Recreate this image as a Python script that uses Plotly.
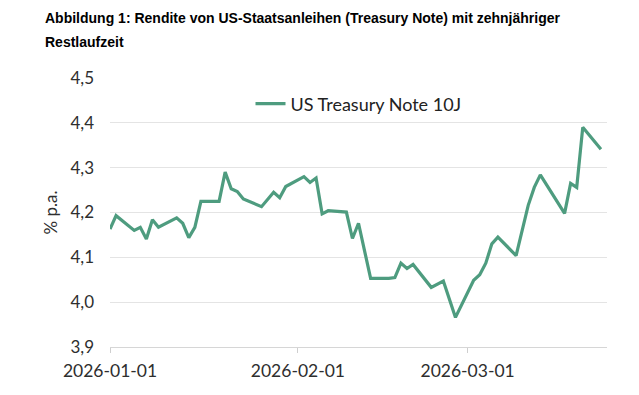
import plotly.graph_objects as go

dates = [
    "2026-01-01", "2026-01-02", "2026-01-05", "2026-01-06", "2026-01-07", "2026-01-08",
    "2026-01-09", "2026-01-12", "2026-01-13", "2026-01-14", "2026-01-15", "2026-01-16",
    "2026-01-19", "2026-01-20", "2026-01-21", "2026-01-22", "2026-01-23", "2026-01-26",
    "2026-01-28", "2026-01-29", "2026-01-30", "2026-02-02", "2026-02-03", "2026-02-04",
    "2026-02-05", "2026-02-06", "2026-02-09", "2026-02-10", "2026-02-11", "2026-02-13",
    "2026-02-16", "2026-02-17", "2026-02-18", "2026-02-19", "2026-02-20", "2026-02-23",
    "2026-02-25", "2026-02-27", "2026-03-02", "2026-03-03", "2026-03-04", "2026-03-05",
    "2026-03-06", "2026-03-09", "2026-03-11", "2026-03-12", "2026-03-13", "2026-03-17",
    "2026-03-18", "2026-03-19", "2026-03-20", "2026-03-23",
]
yields = [
    4.163, 4.193, 4.160, 4.167, 4.141, 4.184,
    4.167, 4.188, 4.176, 4.144, 4.167, 4.225,
    4.225, 4.290, 4.253, 4.247, 4.230, 4.213,
    4.245, 4.233, 4.258, 4.280, 4.267, 4.277,
    4.197, 4.204, 4.201, 4.142, 4.176, 4.053,
    4.053, 4.055, 4.087, 4.075, 4.084, 4.033,
    4.047, 3.966, 4.049, 4.061, 4.087, 4.130,
    4.145, 4.104, 4.216, 4.256, 4.284, 4.198,
    4.265, 4.256, 4.390, 4.341,
]
series_name = "US Treasury Note 10J"
y_ticks = [3.9, 4.0, 4.1, 4.2, 4.3, 4.4, 4.5]
y_tick_labels = ["3,9", "4,0", "4,1", "4,2", "4,3", "4,4", "4,5"]
x_ticks = ["2026-01-01", "2026-02-01", "2026-03-01"]
title_line1 = "Abbildung 1: Rendite von US-Staatsanleihen (Treasury Note) mit zehnjähriger"
title_line2 = "Restlaufzeit"

LINE = "#4E9C7F"
GRID = "#E4E4E4"
TXT = "#2E2E2E"

# the page body has an 8px default margin; the figure is sized to fill the rest
OFF = 8
W, H = 639 - OFF, 395 - OFF
L, R, T, B = 110 - OFF, 32, 78 - OFF, 48
PW, PH = W - L - R, H - T - B

def px_x(x):
    return (x - OFF - L) / PW

def px_y(y):
    return (H - B - (y - OFF)) / PH

fig = go.Figure()
fig.add_trace(go.Scatter(
    x=dates, y=yields, mode="lines", name=series_name,
    line=dict(color=LINE, width=3.2), showlegend=True,
))

fig.update_layout(
    width=W, height=H,
    margin=dict(l=L, r=R, t=T, b=B, autoexpand=False),
    paper_bgcolor="white", plot_bgcolor="white",
    font=dict(family="Lato", size=17, color=TXT),
    showlegend=True,
    legend=dict(
        x=0.5, xanchor="center", y=px_y(104), yanchor="middle", yref="paper",
        orientation="h", font=dict(family="Lato", size=18, color="#222222"),
        bgcolor="rgba(0,0,0,0)",
    ),
    xaxis=dict(
        type="date", range=["2026-01-01", "2026-03-24"],
        tickvals=x_ticks, ticktext=x_ticks,
        showgrid=False, zeroline=False, automargin=False,
        showline=True, linecolor="#D6D6D6", linewidth=1.2,
        ticks="outside", ticklen=5, tickcolor="#CFCFCF", tickwidth=1,
        ticklabelstandoff=3,
        tickfont=dict(family="Lato", size=17.5, color=TXT),
    ),
    yaxis=dict(
        range=[3.9, 4.5], tickvals=y_ticks, ticktext=y_tick_labels,
        showgrid=True, gridcolor=GRID, gridwidth=1.2, automargin=False,
        zeroline=False, showline=False, ticks="", ticklabelstandoff=15,
        tickfont=dict(family="Lato", size=17, color=TXT),
        title=dict(text="% p.a.", font=dict(family="Lato", size=17, color=TXT), standoff=8),
    ),
    annotations=[
        dict(text="<b>" + title_line1 + "</b>", xref="paper", yref="paper",
             x=px_x(43), y=px_y(18.5), xanchor="left", yanchor="middle",
             showarrow=False, font=dict(family="Liberation Sans, Arial", size=14, color="#000000")),
        dict(text="<b>" + title_line2 + "</b>", xref="paper", yref="paper",
             x=px_x(43), y=px_y(41.5), xanchor="left", yanchor="middle",
             showarrow=False, font=dict(family="Liberation Sans, Arial", size=14, color="#000000")),
    ],
)

fig.write_html("out.html")
